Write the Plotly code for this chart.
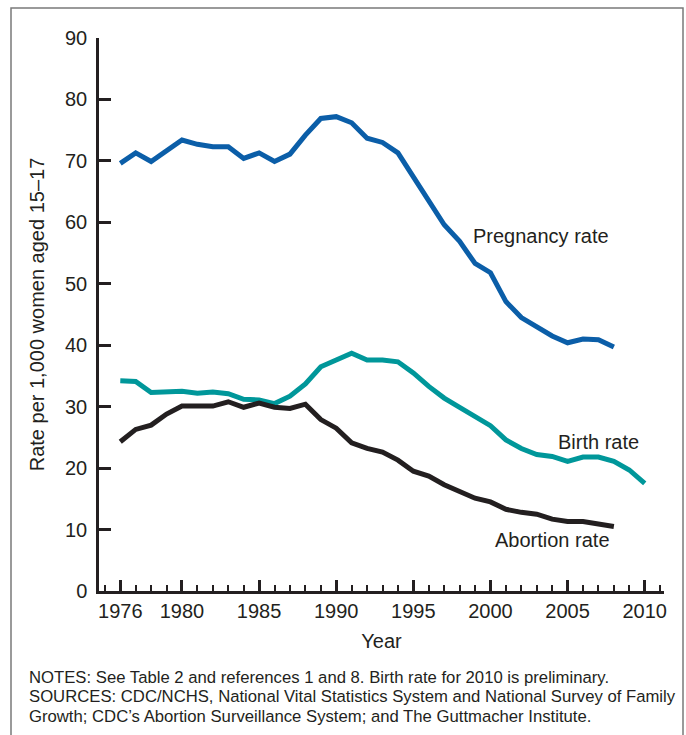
import plotly.graph_objects as go

years = list(range(1976, 2011))

pregnancy_rate = [69.6, 71.3, 69.9, 71.6, 73.4, 72.7, 72.3, 72.3, 70.4, 71.3,
                  69.9, 71.1, 74.2, 76.9, 77.2, 76.2, 73.7, 73.0, 71.3, 67.4,
                  63.5, 59.6, 56.9, 53.3, 51.8, 47.1, 44.5, 43.0, 41.5, 40.4,
                  41.0, 40.9, 39.7]
birth_rate = [34.2, 34.1, 32.3, 32.3, 32.5, 32.2, 32.4, 32.1, 31.2, 31.1,
              30.5, 31.7, 33.7, 36.5, 37.7, 38.7, 37.6, 37.6, 37.3, 35.5,
              33.3, 31.4, 29.9, 28.3, 26.9, 24.6, 23.2, 22.2, 21.9, 21.1,
              21.8, 21.8, 21.1, 19.7, 17.5]
abortion_rate = [24.3, 26.3, 27.0, 28.8, 30.1, 30.1, 30.1, 30.8, 29.9, 30.6,
                 29.9, 29.7, 30.4, 27.9, 26.5, 24.1, 23.2, 22.6, 21.3, 19.5,
                 18.7, 17.3, 16.3, 15.1, 14.5, 13.3, 12.8, 12.5, 11.7, 11.3,
                 11.3, 10.9, 10.5]

major_ticks = [1976, 1980, 1985, 1990, 1995, 2000, 2005, 2010]
y_ticks = list(range(0, 91, 10))

series_labels = ["Pregnancy rate", "Birth rate", "Abortion rate"]
label_x = [2003.3, 2007.0, 2004.0]
label_y = [57.7, 24.3, 8.3]

notes = [
    "NOTES: See Table 2 and references 1 and 8. Birth rate for 2010 is preliminary.",
    "SOURCES: CDC/NCHS, National Vital Statistics System and National Survey of Family",
    "Growth; CDC\u2019s Abortion Surveillance System; and The Guttmacher Institute.",
]

BLUE = "#0b5ea8"
TEAL = "#00979a"
BLACK = "#231f20"
FONT = "Liberation Sans, Arial, sans-serif"

W, H = 686, 735
L, R, T, B = 99, 22, 38, 144
pw, ph = W - L - R, H - T - B


def px_x(px):
    return (px - L) / pw


def px_y(py):
    return (T + ph - py) / ph


fig = go.Figure()

fig.add_trace(go.Scatter(x=years[:len(pregnancy_rate)], y=pregnancy_rate, mode="lines",
                         line=dict(color=BLUE, width=5), name="Pregnancy rate"))
fig.add_trace(go.Scatter(x=years[:len(birth_rate)], y=birth_rate, mode="lines",
                         line=dict(color=TEAL, width=5), name="Birth rate"))
fig.add_trace(go.Scatter(x=years[:len(abortion_rate)], y=abortion_rate, mode="lines",
                         line=dict(color=BLACK, width=5), name="Abortion rate"))

for text, lx, ly in zip(series_labels, label_x, label_y):
    fig.add_annotation(x=lx, y=ly, text=text, showarrow=False,
                       font=dict(size=20, color=BLACK, family=FONT))

# notes under the chart, one line each
for i, line in enumerate(notes):
    fig.add_annotation(xref="paper", yref="paper", x=px_x(27), y=px_y(677 + 19.5 * i),
                       xanchor="left", yanchor="middle", align="left", showarrow=False,
                       text=line, font=dict(size=16.7, color=BLACK, family=FONT))

# grey frame round the figure
fig.add_shape(type="rect", xref="paper", yref="paper",
              x0=px_x(11), x1=px_x(683), y0=px_y(745), y1=px_y(8),
              line=dict(color="#7a7a7a", width=1.5), layer="below")

fig.update_xaxes(
    range=[1974.62, 2011.25], tickvals=major_ticks, ticks="inside", ticklen=11,
    tickwidth=2.5, tickcolor=BLACK, showline=True, linecolor=BLACK, linewidth=2.5,
    showgrid=False, zeroline=False,
    minor=dict(dtick=1, tick0=1976, ticks="inside", ticklen=6, tickwidth=2, tickcolor=BLACK),
    tickfont=dict(size=20, color=BLACK, family=FONT),
    title=dict(text="Year", font=dict(size=20, color=BLACK, family=FONT), standoff=14))

fig.update_yaxes(
    range=[0, 90], tickvals=y_ticks, ticks="inside", ticklen=12, tickwidth=2.5,
    tickcolor=BLACK, showline=True, linecolor=BLACK, linewidth=2.5,
    showgrid=False, zeroline=False, ticklabelstandoff=5,
    tickfont=dict(size=20, color=BLACK, family=FONT),
    title=dict(text="Rate per 1,000 women aged 15\u201317",
               font=dict(size=20, color=BLACK, family=FONT), standoff=16))

fig.update_layout(
    width=W, height=H, margin=dict(l=L, r=R, t=T, b=B),
    plot_bgcolor="white", paper_bgcolor="white", showlegend=False)

fig.write_html("out.html", config={"displayModeBar": False},
               post_script="document.body.style.margin='0';document.body.style.overflow='hidden';")
